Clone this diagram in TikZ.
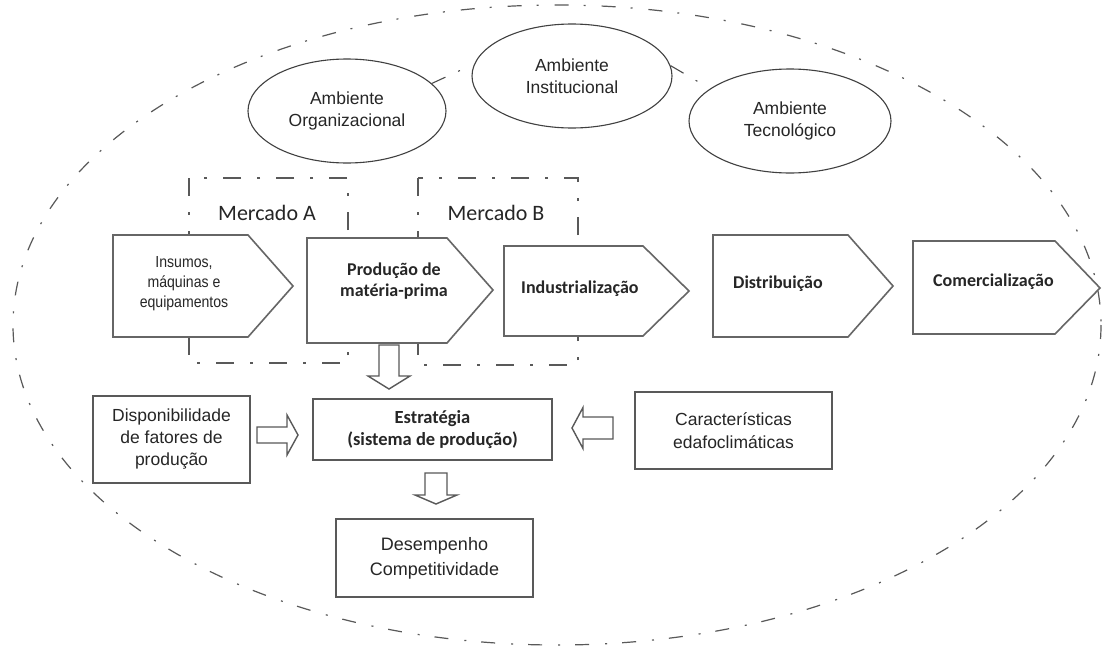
\documentclass[tikz,border=0pt]{standalone}
\usepackage{fontspec}
\setmainfont{Liberation Sans}
\newfontfamily\calfont{Carlito}
\newfontfamily\narrowfont{Liberation Sans}[FakeStretch=0.88]
\usetikzlibrary{shapes.geometric}
\newcommand{\blkarrow}[7]{\draw[blk, shift={(#1,#2)}, rotate=#3] (0,-#5) -- (#4-#7,-#5) -- (#4-#7,-#6) -- (#4,0) -- (#4-#7,#6) -- (#4-#7,#5) -- (0,#5) -- cycle;}
\begin{document}
\begin{tikzpicture}[x=1pt,y=-1pt,
  procbox/.style={draw=black!60, line width=1.6pt, fill=white, line join=miter},
  plainbox/.style={draw=black!65, line width=1.5pt, fill=white},
  env/.style={ellipse, draw=black!75, line width=1.1pt, fill=white, inner sep=0pt, align=center, text=black!85},
  mkt/.style={draw=black!65, line width=1.2pt, dash pattern=on 18pt off 16pt on 3pt off 16pt},
  outer/.style={draw=black!65, line width=1.2pt, dash pattern=on 14pt off 15pt on 2pt off 16pt},
  link/.style={draw=black!70, line width=1.1pt, dash pattern=on 15pt off 14pt on 2pt off 40pt},
  blk/.style={draw=black!65, line width=1.4pt, fill=white, line join=miter},
  txt/.style={align=center, inner sep=0pt, text=black!85},
  sf/.style={font=\fontsize{17.5}{22}\selectfont},
  cb/.style={font=\calfont\bfseries\fontsize{18}{21}\selectfont},
]
\useasboundingbox[fill=white] (0,0) rectangle (1107,645);

% outer dash-dot ellipse
\draw[outer] (557,325) ellipse [x radius=544, y radius=320];

% environment ellipses
\node[env, sf, minimum width=198pt, minimum height=104pt] (org) at (347,111) {Ambiente\\Organizacional};
\node[env, sf, minimum width=200pt, minimum height=104pt] (inst) at (572,76) {Ambiente\\Institucional};
\node[env, sf, minimum width=202pt, minimum height=104pt] (tec) at (790,121) {Ambiente\\Tecnológico};
\draw[link] (org.18) -- (inst.173);
\draw[link] (inst.6) -- (tec.158);

% market boxes
\draw[mkt] (189,178) rectangle (348,363);
\draw[mkt] (418,178) rectangle (578,365);
\node[txt, font=\calfont\fontsize{22}{26}\selectfont] (mA) at (267,213) {Mercado A};
\node[txt, font=\calfont\fontsize{22}{26}\selectfont] (mB) at (496,213) {Mercado B};

% chain
\draw[procbox] (113,235) -- (248,235) -- (293,286) -- (248,337) -- (113,337) -- cycle;
\node[txt, font=\narrowfont\fontsize{16}{20}\selectfont] (ins) at (184,284) {Insumos,\\máquinas e\\equipamentos};
\draw[procbox] (307,238) -- (447,238) -- (493,290) -- (447,343) -- (307,343) -- cycle;
\node[txt, cb] (prod) at (394,281) {Produção de\\matéria-prima};
\draw[procbox] (504,246) -- (643,246) -- (689,291) -- (643,336) -- (504,336) -- cycle;
\node[txt, cb, anchor=west] (ind) at (521,289) {Industrialização};
\draw[procbox] (713,235) -- (848,235) -- (893,286) -- (848,337) -- (713,337) -- cycle;
\node[txt, cb, anchor=west] (dist) at (733,284) {Distribuição};
\draw[procbox] (913,241) -- (1055,241) -- (1100,288) -- (1055,334) -- (913,334) -- cycle;
\node[txt, cb, anchor=west] (com) at (933,282) {Comercialização};

% lower boxes
\node[plainbox, txt, sf, minimum width=157pt, minimum height=87pt] (disp) at (171.5,439.5) {Disponibilidade\\de fatores de\\produção};
\node[plainbox, txt, font=\calfont\bfseries\fontsize{18.5}{22}\selectfont, minimum width=239pt, minimum height=61pt] (estr) at (432.5,429.5) {Estratégia\\(sistema de produção)};
\node[plainbox, txt, font=\fontsize{17.5}{23}\selectfont, minimum width=197pt, minimum height=77pt] (car) at (733.5,430.5) {Características\\edafoclimáticas};
\node[plainbox, txt, font=\fontsize{18}{25}\selectfont, minimum width=197pt, minimum height=78pt] (des) at (434.5,558) {Desempenho\\Competitividade};

% hollow block arrows
\blkarrow{389}{345}{-90}{44}{10}{21}{13}
\blkarrow{257}{435}{0}{41}{8}{20}{11}
\blkarrow{613}{428}{180}{41}{11}{20.5}{11}
\blkarrow{436}{473}{-90}{31}{11}{21}{9}
\end{tikzpicture}
\end{document}
